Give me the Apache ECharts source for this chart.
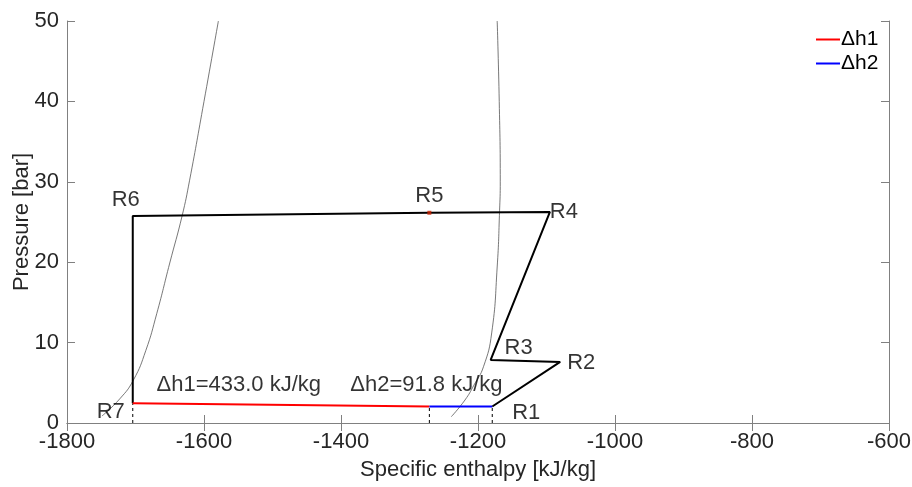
<!DOCTYPE html>
<html>
<head>
<meta charset="utf-8">
<script src="https://cdn.jsdelivr.net/npm/echarts@6/dist/echarts.min.js"></script>
<style>
  html, body { margin: 0; padding: 0; background: #fff; }
  #chart { width: 912px; height: 487px; }
</style>
</head>
<body>
<div id="chart"></div>
<script>
// cycle state points (enthalpy kJ/kg, pressure bar)
const stateNames = ['R1', 'R2', 'R3', 'R4', 'R5', 'R6', 'R7']
const stateH = [-1179.2, -1080, -1181.5, -1095, -1271, -1704, -1704]
const stateP = [2.05, 7.6, 7.85, 26.25, 26.15, 25.75, 2.45]

// evaporator split: R7 -> split (dh1), split -> R1 (dh2)
const splitH = -1271
const splitP = 2.05
const dh1 = 433.0
const dh2 = 91.8

// saturation curves
const satLiqH = [-1749, -1723, -1703, -1685, -1669, -1650, -1632, -1621, -1600, -1579]
const satLiqP = [0.87, 3.0, 5.35, 9.0, 13.6, 19.9, 25.75, 30.2, 40, 50]
const satVapH = [-1239, -1219, -1206, -1192, -1180, -1172, -1168.5, -1167.5, -1169, -1172]
const satVapP = [0.78, 2.86, 4.7, 7.0, 11.2, 19.4, 26.4, 30, 40, 50]

const xTicks = [-1800, -1600, -1400, -1200, -1000, -800, -600]
const yTicks = [0, 10, 20, 30, 40, 50]

const font = 'Liberation Sans, Arial, sans-serif'
const pts = (hs, ps) => hs.map((h, i) => [h, ps[i]])
const idx = name => stateNames.indexOf(name)

const chart = echarts.init(document.getElementById('chart'))

// label offsets in pixels, relative to the anchor point
const labelOffsets = {
  R1: [34, 6], R2: [21, 1], R3: [28, -12], R4: [14, 0],
  R5: [0, -17], R6: [-7, -16], R7: [-22, 9]
}

const labelData = stateNames.map((n, i) => ({
  value: [stateH[i], stateP[i]],
  name: n,
  label: { offset: labelOffsets[n] }
}))
labelData.push({
  value: [stateH[idx('R7')], stateP[idx('R7')]],
  name: 'Δh1=' + dh1.toFixed(1) + ' kJ/kg',
  label: { offset: [106, -18] }
})
labelData.push({
  value: [splitH, splitP],
  name: 'Δh2=' + dh2.toFixed(1) + ' kJ/kg',
  label: { offset: [-3, -22] }
})

const dashed = [
  [stateH[idx('R7')], stateP[idx('R7')]],
  [splitH, splitP],
  [stateH[idx('R1')], stateP[idx('R1')]]
].map(p => ({
  type: 'line',
  data: [[p[0], 0], p],
  symbol: 'none',
  silent: true,
  lineStyle: { color: '#000', width: 1, type: [3, 3] },
  z: 3
}))

const axisCommon = {
  type: 'value',
  axisLine: { show: true, lineStyle: { color: '#808080', width: 1 } },
  axisTick: { show: true, inside: true, length: 8, lineStyle: { color: '#808080' } },
  splitLine: { show: false }
}

const tickLabel = {
  fontFamily: font, fontSize: 22, color: '#262626', margin: 8,
  formatter: v => String(v)
}

const option = {
  animation: false,
  grid: { left: 67, right: 23, top: 21, bottom: 64, outerBoundsMode: 'none', containLabel: false },
  legend: {
    left: 811,
    top: 24,
    orient: 'vertical',
    itemWidth: 24,
    itemHeight: 2,
    itemGap: 3,
    icon: 'rect',
    textStyle: { fontFamily: font, fontSize: 21, color: '#000', padding: [0, 0, 0, -4] },
    data: ['Δh1', 'Δh2']
  },
  xAxis: [
    Object.assign({}, axisCommon, {
      min: -1800, max: -600, interval: 200,
      position: 'bottom',
      name: 'Specific enthalpy [kJ/kg]',
      nameLocation: 'middle',
      nameGap: 36,
      nameMoveOverlap: false,
      nameTextStyle: { fontFamily: font, fontSize: 22, color: '#262626' },
      axisLabel: Object.assign({ customValues: xTicks }, tickLabel)
    }),
    Object.assign({}, axisCommon, {
      min: -1800, max: -600, interval: 200,
      position: 'top',
      axisLabel: { show: false }
    })
  ],
  yAxis: [
    Object.assign({}, axisCommon, {
      min: 0, max: 50, interval: 10,
      position: 'left',
      name: 'Pressure [bar]',
      nameLocation: 'middle',
      nameGap: 34,
      nameMoveOverlap: false,
      nameTextStyle: { fontFamily: font, fontSize: 22, color: '#262626' },
      axisLabel: Object.assign({ customValues: yTicks }, tickLabel)
    }),
    Object.assign({}, axisCommon, {
      min: 0, max: 50, interval: 10,
      position: 'right',
      axisLabel: { show: false }
    })
  ],
  series: [
    {
      type: 'line', data: pts(satLiqH, satLiqP), symbol: 'none',
      smooth: 0.5, silent: true,
      lineStyle: { color: '#555', width: 0.8 }, z: 1
    },
    {
      type: 'line', data: pts(satVapH, satVapP), symbol: 'none',
      smooth: 0.5, silent: true,
      lineStyle: { color: '#555', width: 0.8 }, z: 1
    },
    {
      type: 'line',
      data: pts(stateH, stateP),
      symbol: 'none',
      silent: true,
      lineStyle: { color: '#000', width: 2 },
      z: 4
    },
    {
      name: 'Δh1',
      type: 'line',
      data: [[stateH[idx('R7')], stateP[idx('R7')]], [splitH, splitP]],
      symbol: 'none',
      color: '#ff0000',
      lineStyle: { color: '#ff0000', width: 2 },
      z: 5
    },
    {
      name: 'Δh2',
      type: 'line',
      data: [[splitH, splitP], [stateH[idx('R1')], stateP[idx('R1')]]],
      symbol: 'none',
      color: '#0000ff',
      lineStyle: { color: '#0000ff', width: 2 },
      z: 5
    },
    ...dashed,
    {
      type: 'scatter',
      data: [[stateH[idx('R5')], stateP[idx('R5')]]],
      symbol: 'rect',
      symbolSize: 4,
      itemStyle: { color: '#cc2200' },
      silent: true,
      z: 6
    },
    {
      type: 'scatter',
      data: labelData,
      symbolSize: 0.1,
      itemStyle: { color: 'rgba(0,0,0,0)' },
      silent: true,
      label: {
        show: true,
        position: 'inside',
        formatter: p => p.name,
        fontFamily: font,
        fontSize: 22,
        color: '#000',
        align: 'center',
        verticalAlign: 'middle'
      },
      z: 7
    }
  ]
}

chart.setOption(option)
</script>
</body>
</html>
